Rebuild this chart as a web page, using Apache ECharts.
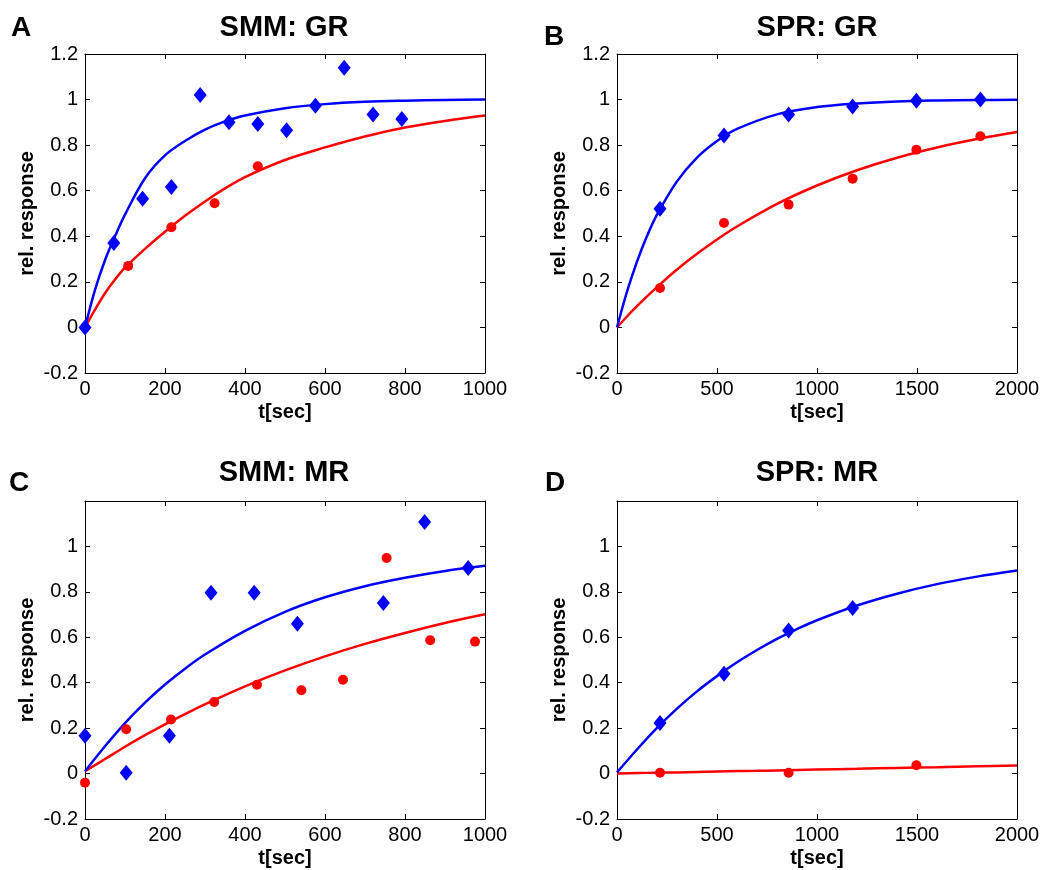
<!DOCTYPE html>
<html><head><meta charset="utf-8">
<script src="https://cdn.jsdelivr.net/npm/echarts@6/dist/echarts.min.js"></script>
<style>html,body{margin:0;padding:0;background:#fff}#c{width:1043px;height:870px}</style>
</head><body><div id="c"></div>
<script>
// ---------- data ----------
const panelTitles = ['SMM: GR', 'SPR: GR', 'SMM: MR', 'SPR: MR'];
const panelLetters = ['A', 'B', 'C', 'D'];
const xAxisMax = [1000, 2000, 1000, 2000];
const xAxisStep = [200, 500, 200, 500];
const yTicksShownMax = [1.2, 1.2, 1.0, 1.0];

// Panel A (SMM: GR)
const aDiamondX = [0, 72, 144, 216, 288, 360, 432, 504, 576, 648, 720, 792];
const aDiamondY = [0, 0.37, 0.565, 0.616, 1.02, 0.90, 0.893, 0.865, 0.973, 1.14, 0.934, 0.915];
const aCircleX = [0, 108, 216, 324, 432];
const aCircleY = [0, 0.27, 0.44, 0.545, 0.707];
const aFitX = [0, 25, 50, 75, 100, 150, 200, 250, 300, 350, 400, 500, 600, 700, 800, 900, 1000];
const aBlueFit = [0, 0.165, 0.295, 0.40, 0.495, 0.655, 0.755, 0.818, 0.868, 0.904, 0.93, 0.962, 0.98, 0.99, 0.995, 0.998, 1.0];
const aRedFit = [0, 0.078, 0.15, 0.21, 0.262, 0.345, 0.42, 0.49, 0.553, 0.61, 0.66, 0.735, 0.79, 0.838, 0.877, 0.906, 0.93];

// Panel B (SPR: GR)
const bDiamondX = [215, 535, 858, 1178, 1497, 1817];
const bDiamondY = [0.521, 0.842, 0.934, 0.970, 0.995, 1.0];
const bCircleX = [215, 535, 858, 1178, 1497, 1817];
const bCircleY = [0.173, 0.458, 0.539, 0.653, 0.780, 0.839];
const bFitX = [0, 50, 100, 150, 200, 300, 400, 500, 600, 800, 1000, 1200, 1400, 1600, 1800, 2000];
const bBlueFit = [0, 0.157, 0.289, 0.401, 0.495, 0.641, 0.745, 0.818, 0.871, 0.935, 0.967, 0.983, 0.992, 0.996, 0.998, 0.999];
const bRedFit = [0, 0.048, 0.093, 0.136, 0.177, 0.254, 0.323, 0.386, 0.443, 0.542, 0.623, 0.690, 0.745, 0.790, 0.827, 0.858];

// Panel C (SMM: MR)
const cDiamondX = [0, 103, 211, 315, 423, 531, 746, 849, 958];
const cDiamondY = [0.166, 0.004, 0.166, 0.796, 0.796, 0.66, 0.751, 1.107, 0.905];
const cCircleX = [0, 103, 215, 323, 430, 541, 645, 754, 863, 975];
const cCircleY = [-0.04, 0.195, 0.238, 0.315, 0.391, 0.367, 0.413, 0.949, 0.587, 0.581];
const cFitX = [0, 50, 100, 150, 200, 250, 300, 400, 500, 600, 700, 800, 900, 1000];
const cBlueFit = [0.01, 0.12, 0.222, 0.312, 0.392, 0.462, 0.524, 0.628, 0.712, 0.776, 0.825, 0.862, 0.892, 0.915];
const cRedFit = [0.01, 0.064, 0.118, 0.169, 0.217, 0.262, 0.305, 0.384, 0.454, 0.516, 0.571, 0.619, 0.663, 0.701];

// Panel D (SPR: MR)
const dDiamondX = [215, 535, 858, 1178];
const dDiamondY = [0.223, 0.44, 0.63, 0.729];
const dCircleX = [215, 858, 1497];
const dCircleY = [0.004, 0.004, 0.037];
const dFitX = [0, 100, 200, 300, 400, 500, 600, 700, 800, 900, 1000, 1200, 1400, 1600, 1800, 2000];
const dBlueFit = [0.005, 0.106, 0.201, 0.286, 0.362, 0.429, 0.49, 0.544, 0.593, 0.636, 0.675, 0.74, 0.792, 0.834, 0.867, 0.894];
const dRedFit = [0, 0.002, 0.004, 0.005, 0.007, 0.009, 0.011, 0.012, 0.014, 0.016, 0.018, 0.021, 0.025, 0.028, 0.032, 0.035];

// ---------- build ----------
const zip = (xs, ys) => xs.map((x, i) => [x, ys[i]]);
const panels = [
  {dx: aDiamondX, dy: aDiamondY, cx: aCircleX, cy: aCircleY, fx: aFitX, fb: aBlueFit, fr: aRedFit},
  {dx: bDiamondX, dy: bDiamondY, cx: bCircleX, cy: bCircleY, fx: bFitX, fb: bBlueFit, fr: bRedFit},
  {dx: cDiamondX, dy: cDiamondY, cx: cCircleX, cy: cCircleY, fx: cFitX, fb: cBlueFit, fr: cRedFit},
  {dx: dDiamondX, dy: dDiamondY, cx: dCircleX, cy: dCircleY, fx: dFitX, fb: dBlueFit, fr: dRedFit}
];

const FONT = '"Liberation Sans", Arial, Helvetica, sans-serif';
const BLUE = '#0000ff', RED = '#ff0000';
const grids = [
  {left: 85, top: 54, width: 400, height: 319},
  {left: 617, top: 54, width: 400, height: 319},
  {left: 85, top: 501, width: 400, height: 318},
  {left: 617, top: 501, width: 400, height: 318}
];
const titlePos = [
  {cx: 284, ty: 13}, {cx: 817, ty: 13}, {cx: 284, ty: 458}, {cx: 817, ty: 458}
];
const letterPos = [
  {x: 11, y: 14}, {x: 544, y: 23}, {x: 9, y: 469}, {x: 545, y: 469}
];

const xAxis = [], yAxis = [], series = [], title = [];
panels.forEach((p, i) => {
  const axLine = {show: true, onZero: false, lineStyle: {color: '#000', width: 1}};
  const tick = {show: true, inside: true, length: 5, lineStyle: {color: '#000', width: 1}};
  xAxis.push({
    gridIndex: i, type: 'value', position: 'bottom', min: 0, max: xAxisMax[i], interval: xAxisStep[i],
    axisLine: axLine, axisTick: tick, splitLine: {show: false},
    axisLabel: {color: '#000', fontSize: 20, fontFamily: FONT, margin: 6, formatter: v => String(v)},
    name: 't[sec]', nameLocation: 'middle', nameGap: 29,
    nameTextStyle: {color: '#000', fontSize: 20, fontWeight: 'bold', fontFamily: FONT}
  });
  xAxis.push({
    gridIndex: i, type: 'value', position: 'top', min: 0, max: xAxisMax[i], interval: xAxisStep[i],
    axisLine: axLine, axisTick: tick, splitLine: {show: false}, axisLabel: {show: false}
  });
  const topShown = yTicksShownMax[i];
  yAxis.push({
    gridIndex: i, type: 'value', position: 'left', min: -0.2, max: 1.2, interval: 0.2,
    axisLine: axLine, axisTick: tick, splitLine: {show: false},
    axisLabel: {color: '#000', fontSize: 20, fontFamily: FONT, margin: 7,
      formatter: v => (v > topShown + 1e-6) ? '' : String(+v.toFixed(1))},
    name: 'rel. response', nameLocation: 'middle', nameGap: 48,
    nameTextStyle: {color: '#000', fontSize: 20, fontWeight: 'bold', fontFamily: FONT}
  });
  yAxis.push({
    gridIndex: i, type: 'value', position: 'right', min: -0.2, max: 1.2, interval: 0.2,
    axisLine: axLine, axisTick: tick, splitLine: {show: false}, axisLabel: {show: false}
  });
  const xi = i * 2, yi = i * 2;
  series.push({
    type: 'line', xAxisIndex: xi, yAxisIndex: yi, data: zip(p.fx, p.fr), smooth: 0.35,
    showSymbol: false, lineStyle: {color: RED, width: 2.5}, z: 2, silent: true
  });
  series.push({
    type: 'line', xAxisIndex: xi, yAxisIndex: yi, data: zip(p.fx, p.fb), smooth: 0.35,
    showSymbol: false, lineStyle: {color: BLUE, width: 2.5}, z: 3, silent: true
  });
  series.push({
    type: 'scatter', xAxisIndex: xi, yAxisIndex: yi, data: zip(p.cx, p.cy),
    symbol: 'circle', symbolSize: 10, itemStyle: {color: RED, opacity: 1}, z: 4, silent: true
  });
  series.push({
    type: 'scatter', xAxisIndex: xi, yAxisIndex: yi, data: zip(p.dx, p.dy),
    symbol: 'diamond', symbolSize: [13, 16], itemStyle: {color: BLUE, opacity: 1}, z: 5, silent: true
  });
  title.push({
    text: panelTitles[i], left: titlePos[i].cx, top: titlePos[i].ty, textAlign: 'center', padding: 0,
    textStyle: {color: '#000', fontSize: 29, fontWeight: 'bold', fontFamily: FONT}
  });
  title.push({
    text: panelLetters[i], left: letterPos[i].x, top: letterPos[i].y, padding: 0,
    textStyle: {color: '#000', fontSize: 28, fontWeight: 'bold', fontFamily: FONT}
  });
});

const chart = echarts.init(document.getElementById('c'), null, {renderer: 'canvas'});
chart.setOption({
  animation: false,
  backgroundColor: '#fff',
  title: title,
  grid: grids,
  xAxis: xAxis,
  yAxis: yAxis,
  series: series
});
</script>
</body></html>
